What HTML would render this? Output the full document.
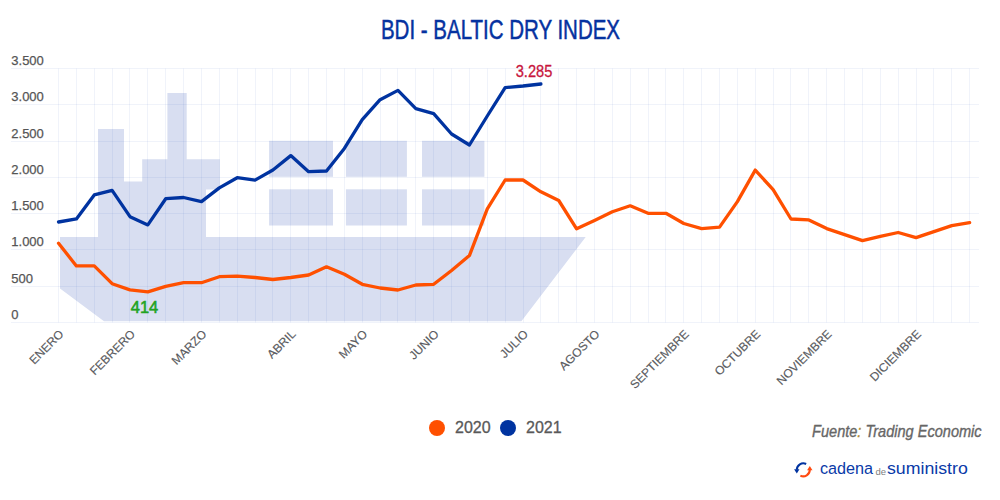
<!DOCTYPE html>
<html><head><meta charset="utf-8"><style>
html,body{margin:0;padding:0;background:#fff;width:1000px;height:500px;overflow:hidden;}
svg{position:absolute;left:0;top:0;}
text{font-family:"Liberation Sans",sans-serif;}
</style></head><body>
<svg width="1000" height="500" viewBox="0 0 1000 500">
<g fill="#d8def1"><polygon points="60,237 98,237 98,129 124,129 124,181.6 142.2,181.6 142.2,159.2 167.4,159.2 167.4,93 186.7,93 186.7,159.2 219.8,159.2 219.8,189.5 206,189.5 206,237 585.7,237 521.4,321.2 104,321.2 60,288.6"/><rect x="269.1" y="140.8" width="63.9" height="36.0"/><rect x="269.1" y="189.3" width="63.9" height="36.2"/><rect x="345.9" y="140.8" width="61.0" height="36.0"/><rect x="345.9" y="189.3" width="61.0" height="36.2"/><rect x="422" y="140.8" width="62.4" height="36.0"/><rect x="422" y="189.3" width="62.4" height="36.2"/></g>
<g stroke="rgb(50,90,190)" stroke-opacity="0.075" stroke-width="1"><line x1="11" y1="68.50" x2="979" y2="68.50"/><line x1="11" y1="104.50" x2="979" y2="104.50"/><line x1="11" y1="141.50" x2="979" y2="141.50"/><line x1="11" y1="177.50" x2="979" y2="177.50"/><line x1="11" y1="213.50" x2="979" y2="213.50"/><line x1="11" y1="249.50" x2="979" y2="249.50"/><line x1="11" y1="286.50" x2="979" y2="286.50"/><line x1="11" y1="322.50" x2="979" y2="322.50"/><line x1="58.50" y1="68.5" x2="58.50" y2="322.5"/><line x1="76.50" y1="68.5" x2="76.50" y2="322.5"/><line x1="94.50" y1="68.5" x2="94.50" y2="322.5"/><line x1="112.50" y1="68.5" x2="112.50" y2="322.5"/><line x1="129.50" y1="68.5" x2="129.50" y2="322.5"/><line x1="147.50" y1="68.5" x2="147.50" y2="322.5"/><line x1="165.50" y1="68.5" x2="165.50" y2="322.5"/><line x1="183.50" y1="68.5" x2="183.50" y2="322.5"/><line x1="201.50" y1="68.5" x2="201.50" y2="322.5"/><line x1="219.50" y1="68.5" x2="219.50" y2="322.5"/><line x1="237.50" y1="68.5" x2="237.50" y2="322.5"/><line x1="255.50" y1="68.5" x2="255.50" y2="322.5"/><line x1="272.50" y1="68.5" x2="272.50" y2="322.5"/><line x1="290.50" y1="68.5" x2="290.50" y2="322.5"/><line x1="308.50" y1="68.5" x2="308.50" y2="322.5"/><line x1="326.50" y1="68.5" x2="326.50" y2="322.5"/><line x1="344.50" y1="68.5" x2="344.50" y2="322.5"/><line x1="362.50" y1="68.5" x2="362.50" y2="322.5"/><line x1="380.50" y1="68.5" x2="380.50" y2="322.5"/><line x1="397.50" y1="68.5" x2="397.50" y2="322.5"/><line x1="415.50" y1="68.5" x2="415.50" y2="322.5"/><line x1="433.50" y1="68.5" x2="433.50" y2="322.5"/><line x1="451.50" y1="68.5" x2="451.50" y2="322.5"/><line x1="469.50" y1="68.5" x2="469.50" y2="322.5"/><line x1="487.50" y1="68.5" x2="487.50" y2="322.5"/><line x1="505.50" y1="68.5" x2="505.50" y2="322.5"/><line x1="523.50" y1="68.5" x2="523.50" y2="322.5"/><line x1="540.50" y1="68.5" x2="540.50" y2="322.5"/><line x1="558.50" y1="68.5" x2="558.50" y2="322.5"/><line x1="576.50" y1="68.5" x2="576.50" y2="322.5"/><line x1="594.50" y1="68.5" x2="594.50" y2="322.5"/><line x1="612.50" y1="68.5" x2="612.50" y2="322.5"/><line x1="630.50" y1="68.5" x2="630.50" y2="322.5"/><line x1="648.50" y1="68.5" x2="648.50" y2="322.5"/><line x1="665.50" y1="68.5" x2="665.50" y2="322.5"/><line x1="683.50" y1="68.5" x2="683.50" y2="322.5"/><line x1="701.50" y1="68.5" x2="701.50" y2="322.5"/><line x1="719.50" y1="68.5" x2="719.50" y2="322.5"/><line x1="737.50" y1="68.5" x2="737.50" y2="322.5"/><line x1="755.50" y1="68.5" x2="755.50" y2="322.5"/><line x1="773.50" y1="68.5" x2="773.50" y2="322.5"/><line x1="790.50" y1="68.5" x2="790.50" y2="322.5"/><line x1="808.50" y1="68.5" x2="808.50" y2="322.5"/><line x1="826.50" y1="68.5" x2="826.50" y2="322.5"/><line x1="844.50" y1="68.5" x2="844.50" y2="322.5"/><line x1="862.50" y1="68.5" x2="862.50" y2="322.5"/><line x1="880.50" y1="68.5" x2="880.50" y2="322.5"/><line x1="898.50" y1="68.5" x2="898.50" y2="322.5"/><line x1="916.50" y1="68.5" x2="916.50" y2="322.5"/><line x1="933.50" y1="68.5" x2="933.50" y2="322.5"/><line x1="951.50" y1="68.5" x2="951.50" y2="322.5"/><line x1="969.50" y1="68.5" x2="969.50" y2="322.5"/></g>
<g fill="#555" stroke="#555" stroke-width="0.25" font-size="13"><text x="11.3" y="64.70">3.500</text><text x="11.3" y="100.70">3.000</text><text x="11.3" y="137.70">2.500</text><text x="11.3" y="173.70">2.000</text><text x="11.3" y="209.70">1.500</text><text x="11.3" y="245.70">1.000</text><text x="11.3" y="282.70">500</text><text x="11.3" y="318.70">0</text></g>
<g fill="#5a5b60" stroke="#5a5b60" stroke-width="0.15" font-size="12" text-anchor="end"><text x="64.33" y="334.8" transform="rotate(-45 64.33 334.8)">ENERO</text><text x="135.79" y="334.8" transform="rotate(-45 135.79 334.8)">FEBRERO</text><text x="207.25" y="334.8" transform="rotate(-45 207.25 334.8)">MARZO</text><text x="296.57" y="334.8" transform="rotate(-45 296.57 334.8)">ABRIL</text><text x="368.04" y="334.8" transform="rotate(-45 368.04 334.8)">MAYO</text><text x="439.49" y="334.8" transform="rotate(-45 439.49 334.8)">JUNIO</text><text x="528.82" y="334.8" transform="rotate(-45 528.82 334.8)">JULIO</text><text x="600.28" y="334.8" transform="rotate(-45 600.28 334.8)">AGOSTO</text><text x="689.60" y="334.8" transform="rotate(-45 689.60 334.8)">SEPTIEMBRE</text><text x="761.06" y="334.8" transform="rotate(-45 761.06 334.8)">OCTUBRE</text><text x="832.52" y="334.8" transform="rotate(-45 832.52 334.8)">NOVIEMBRE</text><text x="921.85" y="334.8" transform="rotate(-45 921.85 334.8)">DICIEMBRE</text></g>
<polyline points="58.53,243.30 76.39,265.90 94.26,265.90 112.12,283.70 129.99,289.90 147.85,291.80 165.72,286.30 183.58,282.70 201.45,282.70 219.31,276.70 237.18,276.20 255.04,277.50 272.91,279.50 290.77,277.50 308.64,275.00 326.50,266.80 344.37,274.30 362.24,284.30 380.10,288.00 397.96,290.00 415.83,285.00 433.69,284.30 451.56,270.50 469.42,255.60 487.29,208.80 505.15,180.00 523.02,180.00 540.88,191.80 558.75,200.50 576.61,228.80 594.48,220.50 612.34,211.80 630.21,205.80 648.07,213.30 665.94,213.30 683.80,223.50 701.67,228.60 719.53,227.10 737.40,201.60 755.26,170.10 773.13,189.60 790.99,219.00 808.86,219.90 826.72,228.60 844.59,234.60 862.45,240.60 880.32,236.40 898.18,232.50 916.05,237.60 933.91,231.60 951.78,225.60 969.64,222.60" fill="none" stroke="#ff5000" stroke-width="3.3" stroke-linejoin="round" stroke-linecap="round"/>
<polyline points="58.53,222.00 76.39,218.90 94.26,194.90 112.12,190.30 129.99,216.70 147.85,224.90 165.72,198.70 183.58,197.50 201.45,201.60 219.31,187.90 237.18,177.70 255.04,180.10 272.91,170.00 290.77,155.60 308.64,171.70 326.50,171.00 344.37,148.40 362.24,119.60 380.10,99.70 397.96,90.40 415.83,108.60 433.69,113.60 451.56,134.00 469.42,145.00 487.29,116.00 505.15,87.60 523.02,86.00 540.88,84.00" fill="none" stroke="#0033a0" stroke-width="3.3" stroke-linejoin="round" stroke-linecap="round"/>
<text transform="translate(534 77) scale(0.87 1)" fill="#c8143c" stroke="#c8143c" stroke-width="0.3" font-size="16.8" text-anchor="middle">3.285</text>
<text x="144.5" y="313" fill="#22a322" stroke="#22a322" stroke-width="0.55" font-size="16.5" text-anchor="middle">414</text>
<text transform="translate(500.5 38.8) scale(0.765 1)" fill="#0532a0" stroke="#0532a0" stroke-width="0.5" font-size="26.8" text-anchor="middle">BDI - BALTIC DRY INDEX</text>
<circle cx="437" cy="428" r="8" fill="#ff5000"/>
<circle cx="508" cy="428" r="8" fill="#0033a0"/>
<text x="455" y="433" fill="#595959" stroke="#595959" stroke-width="0.3" font-size="16">2020</text>
<text x="526" y="433" fill="#595959" stroke="#595959" stroke-width="0.3" font-size="16">2021</text>
<text transform="translate(981.6 437) scale(0.91 1)" fill="#666" stroke="#666" stroke-width="0.35" font-size="16" font-style="italic" text-anchor="end">Fuente<tspan fill="#b08a30" stroke="#b08a30">:</tspan> Trading Economic</text>
<g fill="none" stroke-width="2.1">
<path d="M806.15 463.96 A 6.5 6.5 0 0 0 796.8 469.8" stroke="#0033a0"/>
<path d="M800.35 475.59 A 6.5 6.5 0 0 0 809.8 469.8" stroke="#ff4a10"/>
</g>
<polygon points="794.1,469.3 799.5,469.3 796.8,473.6" fill="#0033a0"/>
<polygon points="807.1,470.3 812.5,470.3 809.8,466" fill="#ff4a10"/>
<text transform="translate(820 474.3) scale(0.93 1)" fill="#0a3aa8" font-size="17.4">cadena</text>
<text x="875.5" y="474.5" fill="#808080" font-size="9.5">de</text>
<text transform="translate(887 474.3) scale(1.02 1)" fill="#0a3aa8" font-size="17.4">suministro</text>
</svg>
</body></html>
